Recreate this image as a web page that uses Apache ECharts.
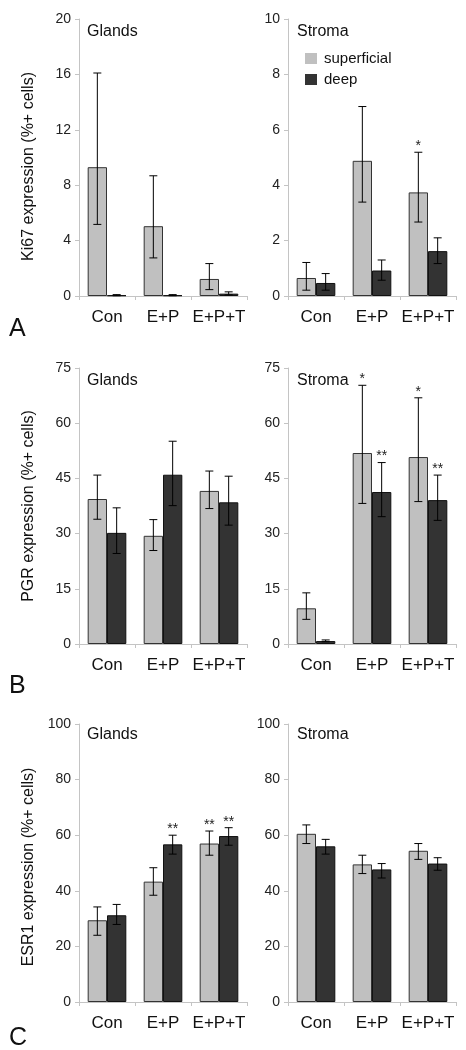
<!DOCTYPE html>
<html>
<head>
<meta charset="utf-8">
<script src="https://cdn.jsdelivr.net/npm/echarts@6/dist/echarts.min.js"></script>
<style>
html,body{margin:0;padding:0;background:#fff;}
#chart{width:466px;height:1050px;}
</style>
</head>
<body>
<div id="chart"></div>
<script>
// ---------- data ----------
const categories = ['Con', 'E+P', 'E+P+T'];
const seriesNames = ['superficial', 'deep'];

// Panel A: Ki67
const ki67GlandsSup = [9.3, 5.04, 1.23];
const ki67GlandsSupLo = [5.17, 2.75, 0.46];
const ki67GlandsSupHi = [16.1, 8.68, 2.34];
const ki67GlandsSupStars = ['', '', ''];
const ki67GlandsDeep = [0.05, 0.05, 0.17];
const ki67GlandsDeepLo = [0.02, 0.02, 0.08];
const ki67GlandsDeepHi = [0.1, 0.1, 0.3];
const ki67GlandsDeepStars = ['', '', ''];

const ki67StromaSup = [0.65, 4.88, 3.74];
const ki67StromaSupLo = [0.21, 3.39, 2.67];
const ki67StromaSupHi = [1.21, 6.84, 5.19];
const ki67StromaSupStars = ['', '', '*'];
const ki67StromaDeep = [0.47, 0.92, 1.62];
const ki67StromaDeepLo = [0.21, 0.57, 1.17];
const ki67StromaDeepHi = [0.81, 1.30, 2.10];
const ki67StromaDeepStars = ['', '', ''];

// Panel B: PGR
const pgrGlandsSup = [39.4, 29.4, 41.6];
const pgrGlandsSupLo = [33.9, 25.4, 36.8];
const pgrGlandsSupHi = [45.9, 33.8, 47.0];
const pgrGlandsSupStars = ['', '', ''];
const pgrGlandsDeep = [30.2, 46.0, 38.5];
const pgrGlandsDeepLo = [24.6, 37.6, 32.3];
const pgrGlandsDeepHi = [37.0, 55.1, 45.6];
const pgrGlandsDeepStars = ['', '', ''];

const pgrStromaSup = [9.7, 51.9, 50.8];
const pgrStromaSupLo = [6.7, 38.2, 38.7];
const pgrStromaSupHi = [13.9, 70.3, 66.9];
const pgrStromaSupStars = ['', '*', '*'];
const pgrStromaDeep = [0.8, 41.3, 39.1];
const pgrStromaDeepLo = [0.6, 34.6, 33.6];
const pgrStromaDeepHi = [1.1, 49.3, 45.9];
const pgrStromaDeepStars = ['', '**', '**'];

// Panel C: ESR1
const esrGlandsSup = [29.4, 43.3, 57.0];
const esrGlandsSupLo = [24.0, 38.4, 52.8];
const esrGlandsSupHi = [34.2, 48.3, 61.5];
const esrGlandsSupStars = ['', '', '**'];
const esrGlandsDeep = [31.2, 56.7, 59.7];
const esrGlandsDeepLo = [27.9, 53.2, 56.4];
const esrGlandsDeepHi = [35.1, 60.0, 62.7];
const esrGlandsDeepStars = ['', '**', '**'];

const esrStromaSup = [60.5, 49.5, 54.4];
const esrStromaSupLo = [57.0, 46.2, 51.3];
const esrStromaSupHi = [63.7, 52.8, 57.0];
const esrStromaSupStars = ['', '', ''];
const esrStromaDeep = [56.0, 47.7, 49.8];
const esrStromaDeepLo = [53.2, 44.6, 47.4];
const esrStromaDeepHi = [58.5, 49.8, 51.9];
const esrStromaDeepStars = ['', '', ''];

// axis scales per panel
const yMax = [20, 10, 75, 75, 100, 100];
const yInterval = [4, 2, 15, 15, 20, 20];
const yTitles = ['Ki67 expression (%+ cells)', 'PGR expression (%+ cells)', 'ESR1 expression (%+ cells)'];
const panelLabels = ['A', 'B', 'C'];
const tissueLabels = ['Glands', 'Stroma'];

// ---------- layout / style ----------
const FONT = 'Liberation Sans, Arial, Helvetica, sans-serif';
const LIGHT = '#c0c0c0';
const DARK = '#333333';
const GAP = 0.31; // barCategoryGap

const panels = [
  {sup: ki67GlandsSup, supLo: ki67GlandsSupLo, supHi: ki67GlandsSupHi, supStars: ki67GlandsSupStars,
   deep: ki67GlandsDeep, deepLo: ki67GlandsDeepLo, deepHi: ki67GlandsDeepHi, deepStars: ki67GlandsDeepStars},
  {sup: ki67StromaSup, supLo: ki67StromaSupLo, supHi: ki67StromaSupHi, supStars: ki67StromaSupStars,
   deep: ki67StromaDeep, deepLo: ki67StromaDeepLo, deepHi: ki67StromaDeepHi, deepStars: ki67StromaDeepStars},
  {sup: pgrGlandsSup, supLo: pgrGlandsSupLo, supHi: pgrGlandsSupHi, supStars: pgrGlandsSupStars,
   deep: pgrGlandsDeep, deepLo: pgrGlandsDeepLo, deepHi: pgrGlandsDeepHi, deepStars: pgrGlandsDeepStars},
  {sup: pgrStromaSup, supLo: pgrStromaSupLo, supHi: pgrStromaSupHi, supStars: pgrStromaSupStars,
   deep: pgrStromaDeep, deepLo: pgrStromaDeepLo, deepHi: pgrStromaDeepHi, deepStars: pgrStromaDeepStars},
  {sup: esrGlandsSup, supLo: esrGlandsSupLo, supHi: esrGlandsSupHi, supStars: esrGlandsSupStars,
   deep: esrGlandsDeep, deepLo: esrGlandsDeepLo, deepHi: esrGlandsDeepHi, deepStars: esrGlandsDeepStars},
  {sup: esrStromaSup, supLo: esrStromaSupLo, supHi: esrStromaSupHi, supStars: esrStromaSupStars,
   deep: esrStromaDeep, deepLo: esrStromaDeepLo, deepHi: esrStromaDeepHi, deepStars: esrStromaDeepStars}
];

const rowTops = [19, 368, 724];
const rowHeights = [277, 276, 278];
const colLefts = [79, 288];
const gridWidth = 168;
const titlePads = [[0, 18, 0, 0], [0, 0, 0, 0], [0, 8, 0, 0]];

const grid = [], xAxis = [], yAxis = [], series = [], title = [];

function errorSeries(idx, lo, hi, stars, sign) {
  return {
    type: 'custom',
    xAxisIndex: idx, yAxisIndex: idx,
    z: 5,
    silent: true,
    data: categories.map((c, i) => [i, lo[i], hi[i]]),
    encode: {x: 0, y: [1, 2]},
    renderItem: function (params, api) {
      const i = api.value(0);
      const pLo = api.coord([i, api.value(1)]);
      const pHi = api.coord([i, api.value(2)]);
      const band = api.size([1, 0])[0];
      const w = band * (1 - GAP) / 2;
      const x = pLo[0] + sign * w / 2;
      const cap = 4;
      const st = {stroke: '#000', lineWidth: 1};
      const children = [
        {type: 'line', shape: {x1: x, y1: pLo[1], x2: x, y2: pHi[1]}, style: st},
        {type: 'line', shape: {x1: x - cap, y1: pHi[1], x2: x + cap, y2: pHi[1]}, style: st},
        {type: 'line', shape: {x1: x - cap, y1: pLo[1], x2: x + cap, y2: pLo[1]}, style: st}
      ];
      const s = stars[params.dataIndex];
      if (s) {
        children.push({type: 'text', style: {text: s, x: x, y: pHi[1] + 1, align: 'center', verticalAlign: 'bottom',
          font: '14px ' + FONT, fill: '#222'}});
      }
      return {type: 'group', children: children};
    }
  };
}

for (let p = 0; p < 6; p++) {
  const row = Math.floor(p / 2), col = p % 2;
  grid.push({left: colLefts[col], top: rowTops[row], width: gridWidth, height: rowHeights[row], containLabel: false});
  xAxis.push({
    type: 'category', gridIndex: p, data: categories,
    axisLine: {lineStyle: {color: '#c4c4c4', width: 1}},
    axisTick: {show: true, length: 4, lineStyle: {color: '#c4c4c4'}},
    axisLabel: {fontSize: 17, color: '#111', fontFamily: FONT, margin: 13, interval: 0, hideOverlap: false}
  });
  yAxis.push({
    type: 'value', gridIndex: p, min: 0, max: yMax[p], interval: yInterval[p],
    axisLine: {show: true, lineStyle: {color: '#c4c4c4', width: 1}},
    axisTick: {show: true, length: 4, lineStyle: {color: '#c4c4c4'}},
    splitLine: {show: false},
    axisLabel: {fontSize: 14, color: '#222', fontFamily: FONT, margin: 8},
    name: col === 0 ? yTitles[row] : '',
    nameLocation: 'middle', nameGap: 42,
    nameTextStyle: {fontSize: 16, color: '#111', fontFamily: FONT, padding: titlePads[row]}
  });
  const d = panels[p];
  series.push({
    name: seriesNames[0], type: 'bar', xAxisIndex: p, yAxisIndex: p, data: d.sup,
    barGap: '0%', barCategoryGap: (GAP * 100) + '%',
    itemStyle: {color: LIGHT, borderColor: '#333', borderWidth: 1},
    silent: true
  });
  series.push({
    name: seriesNames[1], type: 'bar', xAxisIndex: p, yAxisIndex: p, data: d.deep,
    barGap: '0%', barCategoryGap: (GAP * 100) + '%',
    itemStyle: {color: DARK, borderColor: '#111', borderWidth: 1},
    silent: true
  });
  series.push(errorSeries(p, d.supLo, d.supHi, d.supStars, -1));
  series.push(errorSeries(p, d.deepLo, d.deepHi, d.deepStars, 1));
  title.push({
    text: tissueLabels[col], left: colLefts[col] + 8 + (col === 1 ? 1 : 0), top: rowTops[row] + 5 + (row === 2 ? -2 : 0),
    padding: 0,
    textStyle: {fontSize: 16, fontWeight: 'normal', color: '#111', fontFamily: FONT}
  });
}
const letterTops = [317, 674, 1026];
for (let r = 0; r < 3; r++) {
  title.push({
    text: panelLabels[r], left: 9, top: letterTops[r], padding: 0,
    textStyle: {fontSize: 25, fontWeight: 'normal', color: '#111', fontFamily: FONT}
  });
}

const chart = echarts.init(document.getElementById('chart'), null, {renderer: 'canvas'});
chart.setOption({
  animation: false,
  backgroundColor: '#fff',
  title: title,
  legend: {
    data: [
      {name: 'superficial', itemStyle: {color: LIGHT, borderWidth: 0}},
      {name: 'deep', itemStyle: {color: DARK, borderWidth: 0}}
    ],
    orient: 'vertical', left: 305, top: 51, padding: 0,
    itemWidth: 12, itemHeight: 11, itemGap: 6, icon: 'rect',
    textStyle: {fontSize: 15, color: '#111', fontFamily: FONT, padding: [0, 0, 0, 2]},
    selectedMode: false
  },
  grid: grid, xAxis: xAxis, yAxis: yAxis, series: series
});
</script>
</body>
</html>
